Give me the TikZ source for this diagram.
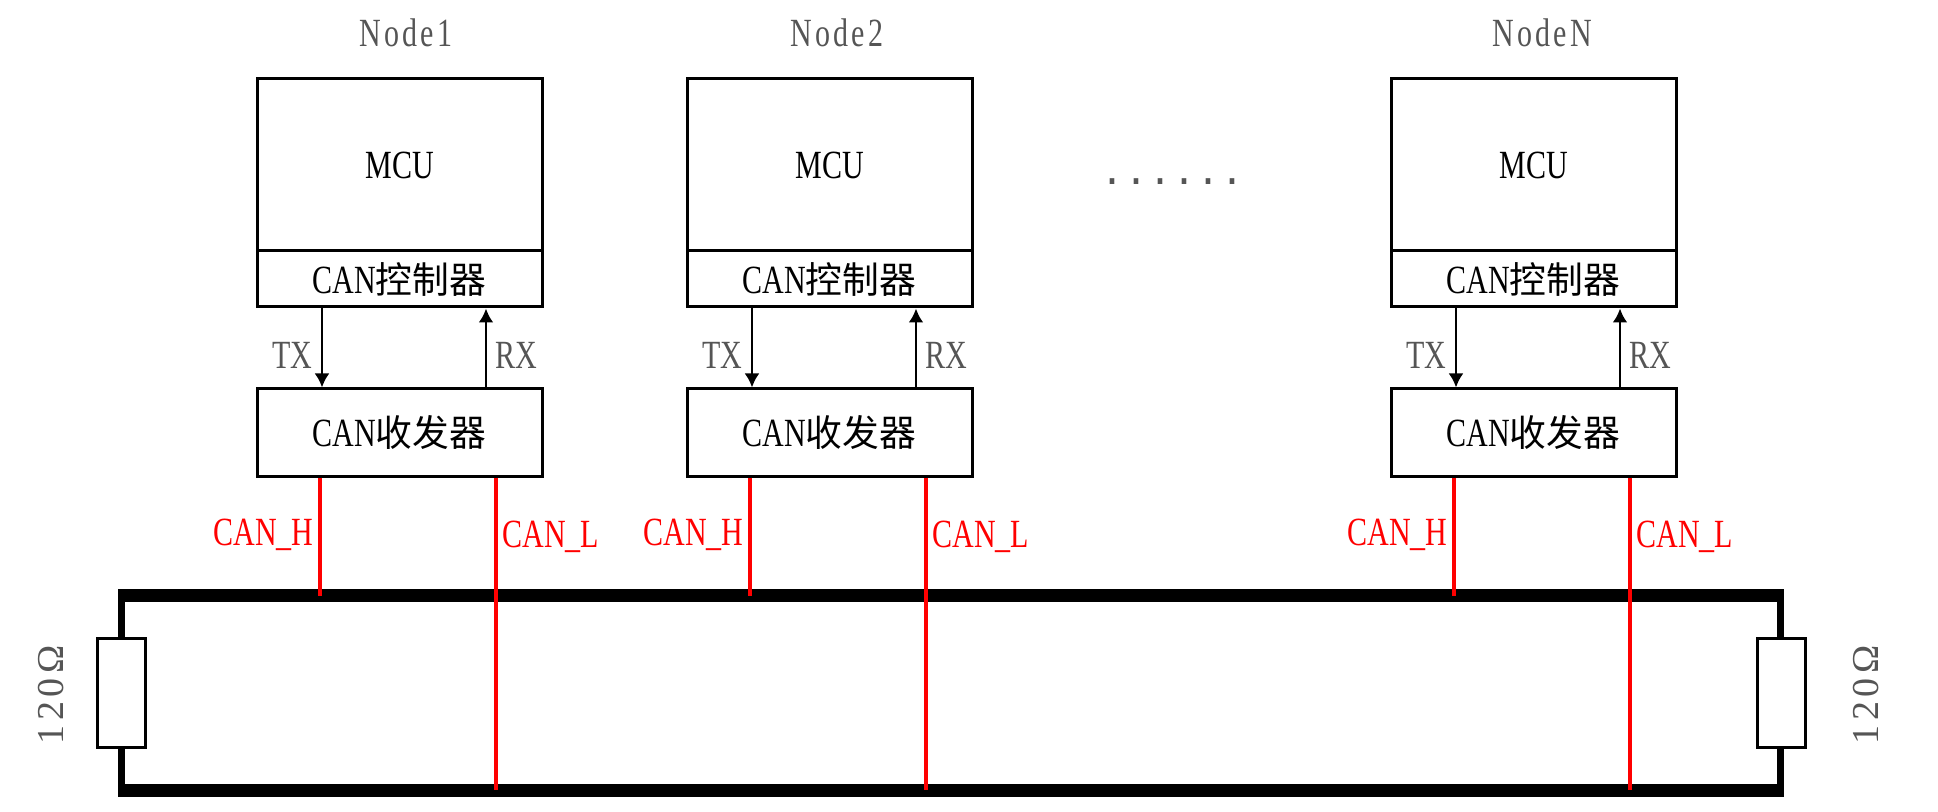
\documentclass[tikz,border=0pt]{standalone}
\usepackage{fontspec}
\setmainfont{Liberation Serif}[FakeStretch=0.75]
\newfontfamily\cjkfont{Noto Sans CJK SC}[Scale=0.92]
\newfontfamily\titlefont{Liberation Serif}[FakeStretch=0.75, LetterSpace=8]
\newfontfamily\dotfont{Liberation Mono}
\newfontfamily\ohmfont{Liberation Serif}[LetterSpace=12]
\usetikzlibrary{arrows.meta, positioning}
\definecolor{labelgray}{HTML}{555555}
\definecolor{canred}{HTML}{FF0000}

\begin{document}
\begin{tikzpicture}[x=0.5pt, y=-0.5pt, >={Latex[length=7pt, width=7.5pt]}, font=\fontsize{20pt}{24pt}\selectfont]
		\tikzstyle{box} = [draw=black, line width=1.5pt, minimum width=142.5pt, inner sep=0pt]
		\tikzstyle{mcubox} = [box, minimum height=86pt]
		\tikzstyle{ctrlbox} = [box, minimum height=28pt]
		\tikzstyle{trxbox} = [box, minimum height=43.5pt]
		\tikzstyle{title} = [draw=none, text=labelgray, font=\titlefont\fontsize{20pt}{24pt}\selectfont]
		\tikzstyle{sig} = [draw=none, text=labelgray, inner sep=4pt]
		\tikzstyle{canlbl} = [draw=none, text=canred, inner sep=2.5pt]
		\tikzstyle{arw} = [->, line width=1.4pt]
		\tikzstyle{canline} = [draw=canred, line width=1.6pt]
		\tikzstyle{bus} = [line width=6.5pt]
		\tikzstyle{busend} = [line width=3.5pt]
		\tikzstyle{res} = [draw=black, fill=white, line width=1.5pt, minimum width=24pt, minimum height=54.5pt, inner sep=0pt]
		\tikzstyle{ohm} = [draw=none, text=labelgray, font=\ohmfont\fontsize{19pt}{24pt}\selectfont, rotate=90]

		\useasboundingbox (0, 0) rectangle (1938, 812);

		% nodes
		\node[title]		at (406, 33)		(name1)	{Node1};
		\node[mcubox]		at (399.5, 165)		(mcu1)	{MCU};
		\node[ctrlbox]		at (399.5, 279)		(ctrl1)	{CAN{\cjkfont 控制器}};
		\node[trxbox]		at (399.5, 432.5)	(trx1)	{CAN{\cjkfont 收发器}};

		\node[title]		at (837, 33)		(name2)	{Node2};
		\node[mcubox]		at (829.5, 165)		(mcu2)	{MCU};
		\node[ctrlbox]		at (829.5, 279)		(ctrl2)	{CAN{\cjkfont 控制器}};
		\node[trxbox]		at (829.5, 432.5)	(trx2)	{CAN{\cjkfont 收发器}};

		\node[title]		at (1542, 33)		(name3)	{NodeN};
		\node[mcubox]		at (1533.5, 165)	(mcu3)	{MCU};
		\node[ctrlbox]		at (1533.5, 279)	(ctrl3)	{CAN{\cjkfont 控制器}};
		\node[trxbox]		at (1533.5, 432.5)	(trx3)	{CAN{\cjkfont 收发器}};

		\node[title, font=\dotfont\fontsize{20pt}{24pt}\selectfont]	at (1172, 182)	(dots)	{......};

		% TX / RX
		\draw[arw] ([xshift=-38.75pt]ctrl1.south) -- node[sig, pos=0.6, left] {TX} ([xshift=-38.75pt]trx1.north);
		\draw[arw] ([xshift=43.25pt]trx1.north) -- node[sig, pos=0.4, right] {RX} ([xshift=43.25pt]ctrl1.south);
		\draw[arw] ([xshift=-38.75pt]ctrl2.south) -- node[sig, pos=0.6, left] {TX} ([xshift=-38.75pt]trx2.north);
		\draw[arw] ([xshift=43.25pt]trx2.north) -- node[sig, pos=0.4, right] {RX} ([xshift=43.25pt]ctrl2.south);
		\draw[arw] ([xshift=-38.75pt]ctrl3.south) -- node[sig, pos=0.6, left] {TX} ([xshift=-38.75pt]trx3.north);
		\draw[arw] ([xshift=43.25pt]trx3.north) -- node[sig, pos=0.4, right] {RX} ([xshift=43.25pt]ctrl3.south);

		% bus
		\coordinate (bh1) at (118, 595.5);
		\coordinate (bh2) at (1784, 595.5);
		\coordinate (bl1) at (118, 790);
		\coordinate (bl2) at (1784, 790);
		\draw[bus] (bh1) -- (bh2);
		\draw[bus] (bl1) -- (bl2);
		\draw[busend] ([xshift=1.75pt]bh1) -- ([xshift=1.75pt]bl1);
		\draw[busend] ([xshift=-1.75pt]bh2) -- ([xshift=-1.75pt]bl2);

		\node[res]		at (121, 692.5)		(r1)	{};
		\node[res]		at (1781.5, 692.5)	(r2)	{};
		\node[ohm]		at (51, 695)		(ohm1)	{120Ω};
		\node[ohm]		at (1866, 695)		(ohm2)	{120Ω};

		% CAN_H / CAN_L
		\draw[canline] ([xshift=-39.75pt]trx1.south) coordinate (h1) -- node[canlbl, pos=0.49, left] {CAN\_H} (h1 |- bh1);
		\draw[canline] ([xshift=48.25pt]trx1.south) coordinate (l1) -- node[canlbl, pos=0.19, right] {CAN\_L} (l1 |- bl1);
		\draw[canline] ([xshift=-39.75pt]trx2.south) coordinate (h2) -- node[canlbl, pos=0.49, left] {CAN\_H} (h2 |- bh1);
		\draw[canline] ([xshift=48.25pt]trx2.south) coordinate (l2) -- node[canlbl, pos=0.19, right] {CAN\_L} (l2 |- bl1);
		\draw[canline] ([xshift=-39.75pt]trx3.south) coordinate (h3) -- node[canlbl, pos=0.49, left] {CAN\_H} (h3 |- bh1);
		\draw[canline] ([xshift=48.25pt]trx3.south) coordinate (l3) -- node[canlbl, pos=0.19, right] {CAN\_L} (l3 |- bl1);
\end{tikzpicture}
\end{document}
